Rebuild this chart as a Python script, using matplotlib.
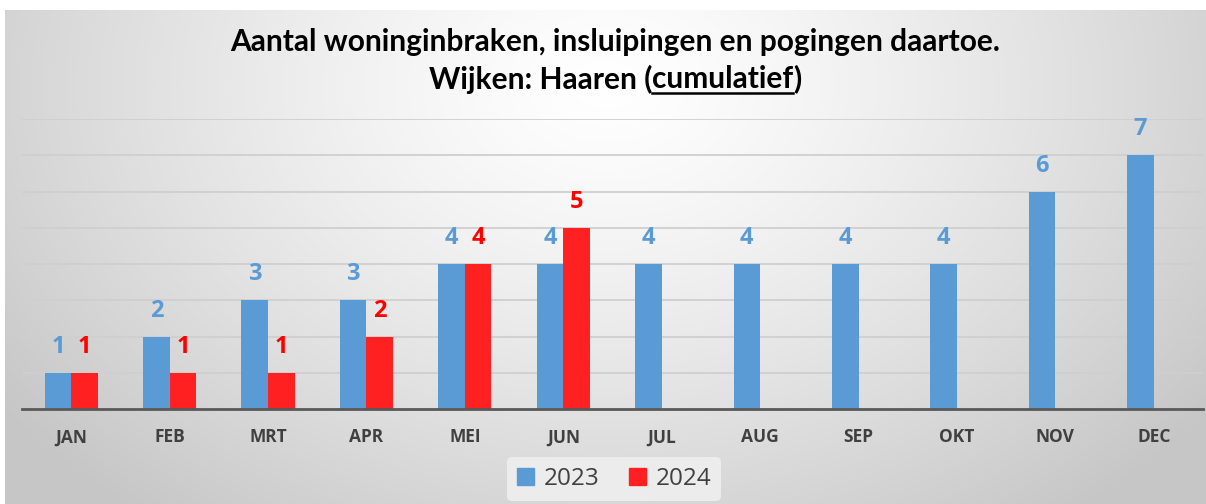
import numpy as np
import matplotlib
matplotlib.use("Agg")
import matplotlib.pyplot as plt
from matplotlib.patches import Patch

months = ["JAN", "FEB", "MRT", "APR", "MEI", "JUN", "JUL", "AUG", "SEP", "OKT", "NOV", "DEC"]
vals_2023 = [1, 2, 3, 3, 4, 4, 4, 4, 4, 4, 6, 7]
vals_2024 = [1, 1, 1, 2, 4, 5]
series_names = ["2023", "2024"]
title1 = "Aantal woninginbraken, insluipingen en pogingen daartoe."
title2a = "Wijken: Haaren ("
title2b = "cumulatief"
title2c = ")"

blue = "#5B9BD5"
red = "#FF2121"
red_txt = "#FF0000"
txt = "#404040"

plt.rcParams['font.family'] = ['Lato', 'DejaVu Sans']

fig = plt.figure(figsize=(12.06, 5.04), dpi=100)
fig.patch.set_facecolor("white")

# background gradient panel
bg = fig.add_axes([5/1206, 0, 1 - 5/1206, 1 - 10/504])
bg.set_axis_off()
W, H = 600, 250
yy, xx = np.mgrid[0:H, 0:W]
cx, cy = W * 0.5, H * 0.15
d = np.sqrt(((xx - cx) / (W * 0.62)) ** 2 + ((yy - cy) / (H * 1.1)) ** 2)
d = np.clip(d, 0, 1)
g = 1.0 - 0.22 * d ** 1.3
img = np.dstack([g, g, g])
bg.imshow(img, aspect="auto", extent=[0, 1, 0, 1], origin="upper")
bg.set_xlim(0, 1); bg.set_ylim(0, 1)

ax = fig.add_axes([22/1206, 95/504, (1203-22)/1206, 290/504])
ax.set_facecolor("none")
x = np.arange(len(months))
w = 0.27
ax.bar(x[:len(vals_2023)] - w/2, vals_2023, width=w, color=blue, zorder=3, label=series_names[0])
x24 = np.arange(len(vals_2024))
ax.bar(x24 + w/2, vals_2024, width=w, color=red, zorder=3, label=series_names[1])

lab_font = ['Open Sans', 'DejaVu Sans']
for xi, v in zip(x, vals_2023):
    ax.text(xi - w/2, v + 0.38, str(v), ha="center", va="bottom", color=blue,
            fontsize=17, fontweight="bold", family=lab_font)
for xi, v in zip(x24, vals_2024):
    ax.text(xi + w/2, v + 0.38, str(v), ha="center", va="bottom", color=red_txt,
            fontsize=17, fontweight="bold", family=lab_font)

ax.set_xlim(-0.5, len(months) - 0.5)
ax.set_ylim(0, 8)
ax.set_yticks(np.arange(1, 9))
ax.yaxis.grid(True, color="#cfcfcf", linewidth=1.3, zorder=0)
ax.tick_params(axis="y", left=False, labelleft=False)
ax.set_xticks(x)
ax.set_xticklabels(months, fontsize=12.5, fontweight="bold", color=txt, family=lab_font)
ax.tick_params(axis="x", length=0, pad=14)
for s in ["top", "right", "left"]:
    ax.spines[s].set_visible(False)
ax.spines["bottom"].set_color("#595959")
ax.spines["bottom"].set_linewidth(2)
ax.spines["bottom"].set_zorder(4)

# legend
handles = [Patch(color=blue, label=series_names[0]), Patch(color=red, label=series_names[1])]
leg = fig.legend(handles=handles, loc="center", bbox_to_anchor=(614/1206, 1 - 479/504), ncol=2,
                 frameon=True, handlelength=0.7, handleheight=0.7,
                 handletextpad=0.4, columnspacing=1.2, borderpad=0.4,
                 prop={'family': ['Open Sans', 'DejaVu Sans'], 'size': 17.5})
leg.get_frame().set_facecolor("#ececec")
leg.get_frame().set_edgecolor("none")
leg.get_frame().set_alpha(1)
for t in leg.get_texts():
    t.set_color(txt)

# title
tfs = 21.5
fig.text(615/1206, 1 - 42/504, title1, ha="center", va="center", fontsize=tfs, fontweight="bold", color="black")
fig.canvas.draw()
r = fig.canvas.get_renderer()
parts = [title2a, title2b, title2c]
tmp = [fig.text(0, 0, p, fontsize=tfs, fontweight="bold") for p in parts]
widths = [t.get_window_extent(r).width for t in tmp]
for t in tmp:
    t.remove()
total = sum(widths)
start = 615 - total / 2
yline = 1 - 79/504
xs = start
for p, wd in zip(parts, widths):
    fig.text(xs/1206, yline, p, ha="left", va="center", fontsize=tfs, fontweight="bold", color="black")
    if p == title2b:
        fig.add_artist(plt.Line2D([xs/1206, (xs + wd)/1206], [yline - 14/504, yline - 14/504],
                                  color="black", linewidth=1.8, transform=fig.transFigure))
    xs += wd

fig.savefig("out.png", dpi=100)
